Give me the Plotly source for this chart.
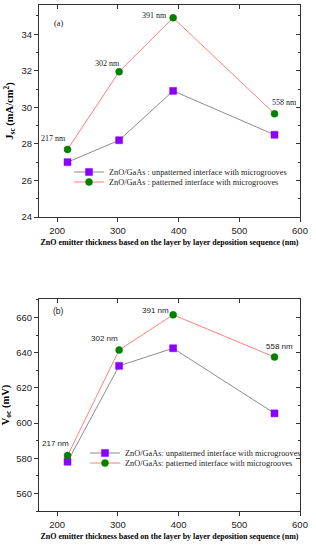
import plotly.graph_objects as go

thickness = [217, 302, 391, 558]
thick_labels = ["217 nm", "302 nm", "391 nm", "558 nm"]
jsc_unpatterned = [27.0, 28.2, 30.9, 28.5]
jsc_patterned = [27.7, 31.95, 34.9, 29.65]
voc_unpatterned = [578.0, 632.5, 642.5, 605.5]
voc_patterned = [581.5, 641.5, 661.5, 637.5]
x_ticks = [200, 300, 400, 500, 600]
jsc_ticks = [24, 26, 28, 30, 32, 34]
voc_ticks = [560, 580, 600, 620, 640, 660]

W, H = 316, 550
SERIF = "Liberation Serif, Times New Roman, serif"
SANS = "Liberation Sans, Arial, sans-serif"
PURPLE = "#8B00FF"
GREEN = "#008000"
RED_LINE = "#FF8080"
GRAY_LINE = "#8C8C8C"
AX = "#333"

ML, MR, MT, MB = 39, 16, 5, 39
ph = H - MT - MB
pw = W - ML - MR
def py(p):  # pixel y -> paper fraction
    return (H - MB - p) / ph
def px(p):
    return (p - ML) / pw

top_dom = [py(217), 1.0]
bot_dom = [0.0, py(299)]
xr = [170, 600]
jsc_range = [24, 35.6]
voc_range = [550, 670.5]

fig = go.Figure()

def add_series(x, y, xa, ya, color, line_color, symbol, name, legend):
    fig.add_trace(go.Scatter(
        x=x, y=y, xaxis=xa, yaxis=ya, mode="lines+markers", name=name,
        line=dict(color=line_color, width=1),
        marker=dict(symbol=symbol, size=7, color=color,
                    line=dict(color=color, width=0.5)),
        legend=legend, showlegend=True))

# unpatterned on the main axes, patterned on the mirrored (top/right) axes
add_series(thickness, jsc_unpatterned, "x", "y", PURPLE, GRAY_LINE, "square",
           "ZnO/GaAs : unpatterned interface with microgrooves", "legend")
add_series(thickness, jsc_patterned, "x3", "y3", GREEN, RED_LINE, "circle",
           "ZnO/GaAs : patterned interface with microgrooves", "legend2")
add_series(thickness, voc_unpatterned, "x2", "y2", PURPLE, GRAY_LINE, "square",
           "ZnO/GaAs: unpatterned interface with microgrooves", "legend3")
add_series(thickness, voc_patterned, "x4", "y4", GREEN, RED_LINE, "circle",
           "ZnO/GaAs: patterned interface with microgrooves", "legend4")

tickfont = dict(family=SANS, size=9.5, color="#222")
title_font = dict(family=SERIF, size=8, color="black")

def xaxis(anchor):
    return dict(range=xr, anchor=anchor, domain=[0, 1], tickmode="array", tickvals=x_ticks,
                ticks="outside", ticklen=4, tickwidth=1, tickcolor=AX, showline=True,
                linecolor=AX, linewidth=1.2, showgrid=False, zeroline=False,
                tickfont=tickfont,
                title=dict(text="<b>ZnO emitter thickness based on the layer by layer deposition sequence (nm)</b>",
                           font=title_font, standoff=4))

def xaxis_top(anchor, over):
    return dict(range=xr, anchor=anchor, overlaying=over, side="top",
                tickmode="array", tickvals=x_ticks, ticks="inside", ticklen=4,
                tickwidth=1, tickcolor=AX, showline=True, linecolor=AX, linewidth=1.2,
                showticklabels=False, showgrid=False, zeroline=False)

def yaxis(dom, anchor, rng, tv, title):
    step = tv[1] - tv[0]
    return dict(domain=dom, anchor=anchor, range=rng, tickmode="linear",
                tick0=tv[0], dtick=step, ticks="outside",
                ticklen=4, tickwidth=1, tickcolor=AX, showline=True,
                linecolor=AX, linewidth=1.2, showgrid=False, zeroline=False,
                tickfont=tickfont,
                minor=dict(ticks="outside", ticklen=2, tickcolor=AX,
                           tick0=tv[0], dtick=step / 2, showgrid=False),
                title=dict(text=title, font=dict(family=SERIF, size=10.5, color="black"),
                           standoff=5))

def yaxis_right(anchor, over, rng, tv):
    step = tv[1] - tv[0]
    return dict(anchor=anchor, overlaying=over, side="right", range=rng,
                tickmode="linear", tick0=tv[0], dtick=step,
                ticks="inside", ticklen=4, tickwidth=1, tickcolor=AX,
                showline=True, linecolor=AX, linewidth=1.2, showticklabels=False,
                showgrid=False, zeroline=False,
                minor=dict(ticks="inside", ticklen=2, tickcolor=AX,
                           tick0=tv[0], dtick=step / 2, showgrid=False))

fig.update_layout(
    width=W, height=H, margin=dict(l=ML, r=MR, t=MT, b=MB, autoexpand=False),
    paper_bgcolor="white", plot_bgcolor="white",
    xaxis=xaxis("y"),
    xaxis2=xaxis("y2"),
    xaxis3=xaxis_top("y3", "x"),
    xaxis4=xaxis_top("y4", "x2"),
    yaxis=yaxis(top_dom, "x", jsc_range, jsc_ticks, "<b>J<sub>sc</sub> (mA/cm<sup>2</sup>)</b>"),
    yaxis2=yaxis(bot_dom, "x2", voc_range, voc_ticks, "<b>V<sub>oc</sub> (mV)</b>"),
    yaxis3=yaxis_right("x3", "y", jsc_range, jsc_ticks),
    yaxis4=yaxis_right("x4", "y2", voc_range, voc_ticks),
    showlegend=True,
    hovermode=False,
)

def leg(x_text_px, y_px, font):
    return dict(x=px(x_text_px - 40), y=py(y_px),
                xanchor="left", yanchor="middle", bgcolor="rgba(0,0,0,0)",
                borderwidth=0, font=font, itemwidth=30)

legfont = dict(family=SERIF, size=8.3, color="#222")
fig.update_layout(
    legend=leg(109, 172, legfont),
    legend2=leg(109, 182, legfont),
    legend3=leg(125, 453, legfont),
    legend4=leg(125, 463, legfont),
)

# point labels (pixel offsets from the patterned-series points)
ann_top = [(-14, 11), (-12, 8), (-19, 2), (10, 11)]
ann_bot = [(-12, 12), (-15, 12), (-18, 4), (5, 11)]
for i, (xv, yv, lab) in enumerate(zip(thickness, jsc_patterned, thick_labels)):
    dx, dy = ann_top[i]
    fig.add_annotation(x=xv, y=yv, xref="x", yref="y", text=lab, showarrow=False,
                       xshift=dx, yshift=dy, font=dict(family=SERIF, size=8, color="#222"))
for i, (xv, yv, lab) in enumerate(zip(thickness, voc_patterned, thick_labels)):
    dx, dy = ann_bot[i]
    fig.add_annotation(x=xv, y=yv, xref="x2", yref="y2", text=lab, showarrow=False,
                       xshift=dx, yshift=dy, font=dict(family=SANS, size=8, color="#222"))

fig.add_annotation(xref="paper", yref="paper", x=px(52), y=py(16), text="(a)",
                   showarrow=False, font=dict(family=SERIF, size=8.5, color="#222"))
fig.add_annotation(xref="paper", yref="paper", x=px(51), y=py(311), text="(b)",
                   showarrow=False, font=dict(family=SANS, size=8.5, color="#222"))

fig.write_html("out.html", config={"displayModeBar": False},
               post_script="document.body.style.margin='0';")
